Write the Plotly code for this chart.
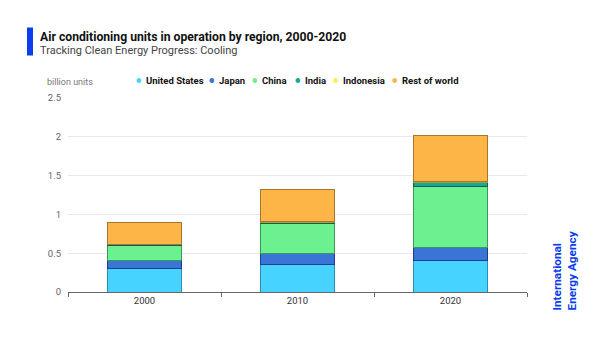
import plotly.graph_objects as go

years = ["2000", "2010", "2020"]
regions = ["United States", "Japan", "China", "India", "Indonesia", "Rest of world"]
united_states = [0.30, 0.35, 0.40]
japan = [0.11, 0.14, 0.17]
china = [0.19, 0.39, 0.79]
india = [0.01, 0.02, 0.05]
indonesia = [0.005, 0.005, 0.02]
rest_of_world = [0.275, 0.42, 0.59]

series = [united_states, japan, china, india, indonesia, rest_of_world]
fills = ["#47d3ff", "#3a74d6", "#6cf191", "#16a89c", "#f7f24e", "#fdb547"]
edges = ["#2b8fb5", "#1d3f8a", "#3b9a5a", "#0d5d57", "#a8a22a", "#a8772c"]

FONT = "Roboto, Inter, sans-serif"
W, H = 600, 338
ML, MR, MT, MB = 68, 73, 98, 46
PW, PH = W - ML - MR, H - MT - MB


def px(x):
    return (x - ML) / PW


def py(y):
    return (H - MB - y) / PH


fig = go.Figure()
for name, vals, fc, ec in zip(regions, series, fills, edges):
    fig.add_trace(go.Bar(
        x=years, y=vals, name=name, showlegend=False,
        marker=dict(color=fc, line=dict(color=ec, width=1)),
    ))

fig.update_layout(
    barmode="stack",
    bargap=0.52,
    width=W, height=H,
    margin=dict(l=ML, r=MR, t=MT, b=MB),
    paper_bgcolor="white", plot_bgcolor="white",
    font=dict(family=FONT, color="#222"),
    showlegend=False,
    xaxis=dict(
        type="category", showgrid=False, showline=True, linecolor="#666",
        linewidth=1, ticks="outside", tickson="boundaries", ticklen=4,
        tickcolor="#666", tickfont=dict(size=9.5, color="#333"),
    ),
    yaxis=dict(
        range=[0, 2.5], dtick=0.5, showgrid=True, gridcolor="#e8e8e8",
        zeroline=False, showline=False, ticks="",
        tickfont=dict(size=9.5, color="#666"), ticklabelstandoff=6,
        tickformat="~g",
    ),
)

# legend row: coloured dot followed by bold region name
legend_dot_x = [138, 211, 254, 297, 335, 394]
for name, fc, dx in zip(regions, fills, legend_dot_x):
    fig.add_annotation(xref="paper", yref="paper", x=px(dx), y=py(80),
                       text="●", showarrow=False, xanchor="center",
                       yanchor="middle", font=dict(size=6, color=fc))
    fig.add_annotation(xref="paper", yref="paper", x=px(dx + 6), y=py(80),
                       text=f"<b>{name}</b>", showarrow=False,
                       xanchor="left", yanchor="middle",
                       font=dict(size=9.5, color="#111", family=FONT))

# title block
fig.add_shape(type="rect", xref="paper", yref="paper",
              x0=px(27), x1=px(33), y0=py(55.5), y1=py(27.5),
              fillcolor="#0a3cf0", line=dict(width=0), layer="above")
fig.add_annotation(xref="paper", yref="paper", x=px(38), y=py(37),
                   text="<b>Air conditioning units in operation by region, 2000-2020</b>",
                   showarrow=False, xanchor="left", yanchor="middle",
                   font=dict(size=12.2, color="#111", family=FONT))
fig.add_annotation(xref="paper", yref="paper", x=px(38), y=py(50),
                   text="Tracking Clean Energy Progress: Cooling",
                   showarrow=False, xanchor="left", yanchor="middle",
                   font=dict(size=11, color="#444", family=FONT))
fig.add_annotation(xref="paper", yref="paper", x=px(45), y=py(82),
                   text="billion units", showarrow=False,
                   xanchor="left", yanchor="middle",
                   font=dict(size=9, color="#777", family=FONT))
fig.add_annotation(xref="paper", yref="paper", x=px(563.5), y=py(271),
                   text="<b>International<br>Energy Agency</b>", textangle=-90,
                   showarrow=False, xanchor="center", yanchor="middle",
                   align="left",
                   font=dict(size=11.8, color="#0a3cf0", family=FONT))

fig.write_html("out.html")
